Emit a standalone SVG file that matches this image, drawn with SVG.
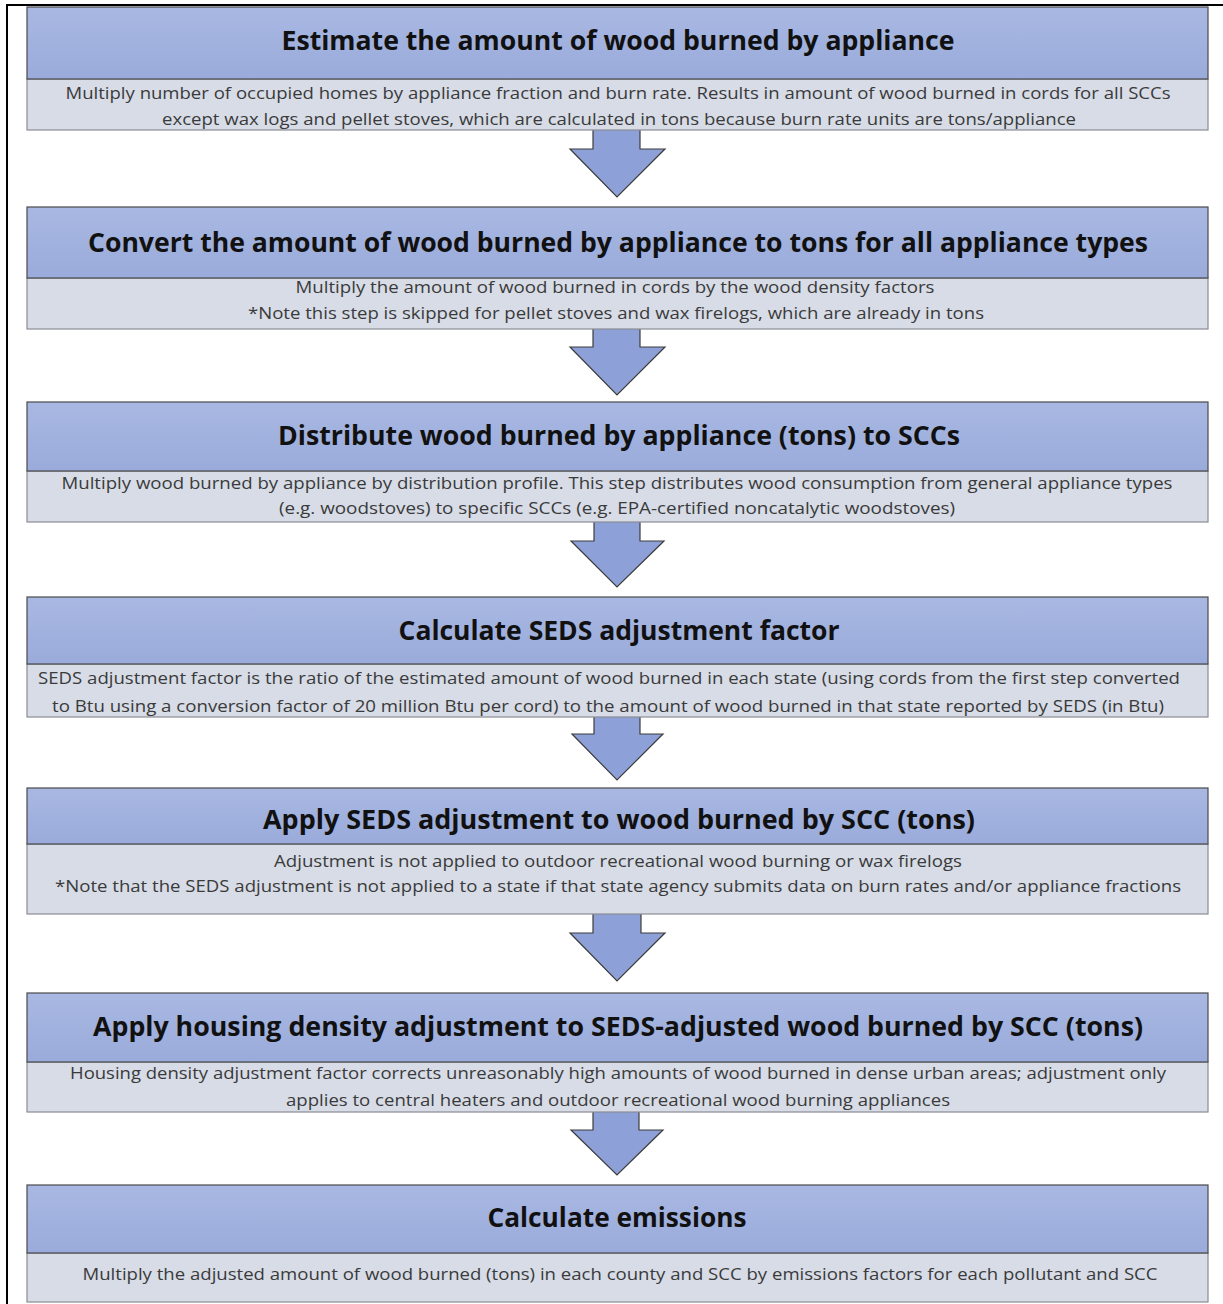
<svg xmlns="http://www.w3.org/2000/svg" width="1223" height="1304" viewBox="0 0 1223 1304">
<style>
.hd{fill:url(#g);stroke:#4a4a4a;stroke-width:1.2}
.bd{fill:#d7dce7;stroke:#8a8d94;stroke-width:1.2}
.t{font-family:"Open Sans","Liberation Sans",sans-serif;font-weight:700;font-size:26px;fill:#111;text-anchor:middle}
.s{font-family:"Open Sans","Liberation Sans",sans-serif;font-size:17px;fill:#3a3a3a;text-anchor:middle}
.ar{fill:#8da0d8;stroke:#3c3c3c;stroke-width:1.2;stroke-linejoin:miter}
</style>
<defs>
<linearGradient id="g" x1="0" y1="0" x2="0" y2="1">
<stop offset="0" stop-color="#a9b8e2"/>
<stop offset="1" stop-color="#9aabdb"/>
</linearGradient>
</defs>
<rect width="1223" height="1304" fill="#fff"/>
<path d="M7,1304 V5 H1223" fill="none" stroke="#000" stroke-width="2"/>
<g id="connectors">
<path class="ar" d="M593,130 V149 H570 L617,197 L665,149 H640 V130"/>
<path class="ar" d="M593,329 V347 H570 L617,395 L665,347 H640 V329"/>
<path class="ar" d="M594,522 V541 H571 L617,587 L664,541 H640 V522"/>
<path class="ar" d="M594,717 V734 H572 L617,780 L663,734 H640 V717"/>
<path class="ar" d="M593,914 V933 H570 L617,981 L665,933 H641 V914"/>
<path class="ar" d="M593,1112 V1130 H571 L617,1175 L663,1130 H639 V1112"/>
</g>
<g id="node1">
<rect class="bd" x="27" y="79" width="1181" height="51"/>
<rect class="hd" x="27" y="7" width="1181" height="72"/>
<text class="t" x="618" y="50" textLength="673" lengthAdjust="spacingAndGlyphs">Estimate the amount of wood burned by appliance</text>
<text class="s" x="618" y="99" textLength="1105" lengthAdjust="spacingAndGlyphs">Multiply number of occupied homes by appliance fraction and burn rate. Results in amount of wood burned in cords for all SCCs</text>
<text class="s" x="619" y="125" textLength="914" lengthAdjust="spacingAndGlyphs">except wax logs and pellet stoves, which are calculated in tons because burn rate units are tons/appliance</text>
</g>
<g id="node2">
<rect class="bd" x="27" y="278" width="1181" height="51"/>
<rect class="hd" x="27" y="207" width="1181" height="71"/>
<text class="t" x="618" y="252" textLength="1060" lengthAdjust="spacingAndGlyphs">Convert the amount of wood burned by appliance to tons for all appliance types</text>
<text class="s" x="615" y="293" textLength="639" lengthAdjust="spacingAndGlyphs">Multiply the amount of wood burned in cords by the wood density factors</text>
<text class="s" x="616" y="319" textLength="736" lengthAdjust="spacingAndGlyphs">*Note this step is skipped for pellet stoves and wax firelogs, which are already in tons</text>
</g>
<g id="node3">
<rect class="bd" x="27" y="471" width="1181" height="51"/>
<rect class="hd" x="27" y="402" width="1181" height="69"/>
<text class="t" x="619" y="445" textLength="682" lengthAdjust="spacingAndGlyphs">Distribute wood burned by appliance (tons) to SCCs</text>
<text class="s" x="617" y="489" textLength="1111" lengthAdjust="spacingAndGlyphs">Multiply wood burned by appliance by distribution profile. This step distributes wood consumption from general appliance types</text>
<text class="s" x="617" y="514" textLength="676" lengthAdjust="spacingAndGlyphs">(e.g. woodstoves) to specific SCCs (e.g. EPA-certified noncatalytic woodstoves)</text>
</g>
<g id="node4">
<rect class="bd" x="27" y="664" width="1181" height="53"/>
<rect class="hd" x="27" y="597" width="1181" height="67"/>
<text class="t" x="619" y="640" textLength="441" lengthAdjust="spacingAndGlyphs">Calculate SEDS adjustment factor</text>
<text class="s" x="609" y="684" textLength="1142" lengthAdjust="spacingAndGlyphs">SEDS adjustment factor is the ratio of the estimated amount of wood burned in each state (using cords from the first step converted</text>
<text class="s" x="608" y="712" textLength="1112" lengthAdjust="spacingAndGlyphs">to Btu using a conversion factor of 20 million Btu per cord) to the amount of wood burned in that state reported by SEDS (in Btu)</text>
</g>
<g id="node5">
<rect class="bd" x="27" y="844" width="1181" height="70"/>
<rect class="hd" x="27" y="788" width="1181" height="56"/>
<text class="t" x="619" y="829" textLength="712" lengthAdjust="spacingAndGlyphs">Apply SEDS adjustment to wood burned by SCC (tons)</text>
<text class="s" x="618" y="867" textLength="688" lengthAdjust="spacingAndGlyphs">Adjustment is not applied to outdoor recreational wood burning or wax firelogs</text>
<text class="s" x="618" y="892" textLength="1126" lengthAdjust="spacingAndGlyphs">*Note that the SEDS adjustment is not applied to a state if that state agency submits data on burn rates and/or appliance fractions</text>
</g>
<g id="node6">
<rect class="bd" x="27" y="1062" width="1181" height="50"/>
<rect class="hd" x="27" y="993" width="1181" height="69"/>
<text class="t" x="618" y="1036" textLength="1050" lengthAdjust="spacingAndGlyphs">Apply housing density adjustment to SEDS-adjusted wood burned by SCC (tons)</text>
<text class="s" x="618" y="1079" textLength="1096" lengthAdjust="spacingAndGlyphs">Housing density adjustment factor corrects unreasonably high amounts of wood burned in dense urban areas; adjustment only</text>
<text class="s" x="618" y="1106" textLength="664" lengthAdjust="spacingAndGlyphs">applies to central heaters and outdoor recreational wood burning appliances</text>
</g>
<g id="node7">
<rect class="bd" x="27" y="1253" width="1181" height="49"/>
<rect class="hd" x="27" y="1185" width="1181" height="68"/>
<text class="t" x="617" y="1227" textLength="259" lengthAdjust="spacingAndGlyphs">Calculate emissions</text>
<text class="s" x="620" y="1280" textLength="1075" lengthAdjust="spacingAndGlyphs">Multiply the adjusted amount of wood burned (tons) in each county and SCC by emissions factors for each pollutant and SCC</text>
</g>
</svg>
